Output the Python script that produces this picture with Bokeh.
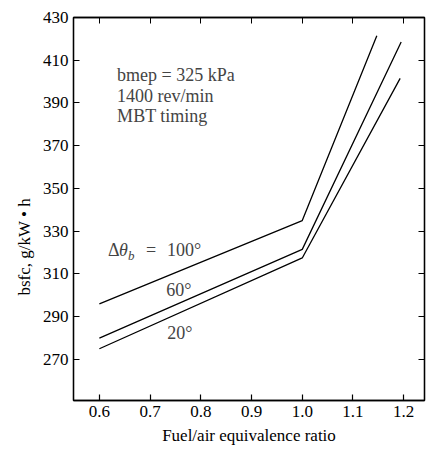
from bokeh.plotting import figure
from bokeh.models import LinearAxis, FixedTicker, Label, Range1d, Title
from bokeh.embed import file_html
from bokeh.resources import INLINE

# Data
phi_100 = [0.6, 1.0, 1.147]
bsfc_100 = [296, 335, 421.5]
phi_60 = [0.6, 1.0, 1.195]
bsfc_60 = [280, 321.5, 418.5]
phi_20 = [0.6, 1.0, 1.193]
bsfc_20 = [275, 317.5, 401.5]

x_ticks = [0.6, 0.7, 0.8, 0.9, 1.0, 1.1, 1.2]
x_tick_labels = ["0.6", "0.7", "0.8", "0.9", "1.0", "1.1", "1.2"]
y_ticks = [270, 290, 310, 330, 350, 370, 390, 410, 430]

FONT = "Liberation Serif"

p = figure(width=426, height=456, output_backend="svg", toolbar_location=None,
           x_range=Range1d(0.549, 1.241), y_range=Range1d(250.8, 430),
           min_border_left=73, min_border_right=2, min_border_top=17, min_border_bottom=56,
           x_axis_label="Fuel/air equivalence ratio")
p.grid.visible = False
p.outline_line_color = "black"
p.outline_line_width = 1.3
p.background_fill_color = "white"
p.border_fill_color = "white"

for ax in (p.xaxis[0], p.yaxis[0]):
    ax.major_tick_in = 6
    ax.major_tick_out = 0
    ax.minor_tick_line_color = None
    ax.axis_line_width = 1.3
    ax.major_tick_line_width = 1.2
    ax.major_label_text_font = FONT
    ax.major_label_text_font_size = "17px"
    ax.major_label_text_color = "black"
    ax.axis_label_text_font = FONT
    ax.axis_label_text_font_size = "17px"
    ax.axis_label_text_font_style = "normal"
    ax.axis_label_text_color = "black"
    ax.major_label_standoff = 5

p.xaxis[0].ticker = FixedTicker(ticks=x_ticks)
p.xaxis[0].major_label_overrides = {t: s for t, s in zip(x_ticks, x_tick_labels)}
p.xaxis[0].axis_label_standoff = 6
p.yaxis[0].ticker = FixedTicker(ticks=y_ticks)

top = LinearAxis(ticker=FixedTicker(ticks=x_ticks), major_tick_in=6, major_tick_out=0,
                 minor_tick_line_color=None, axis_line_width=1.3,
                 major_label_overrides={t: "" for t in x_ticks})
right = LinearAxis(ticker=FixedTicker(ticks=y_ticks), major_tick_in=6, major_tick_out=0,
                   minor_tick_line_color=None, axis_line_width=1.3,
                   major_label_overrides={t: "" for t in y_ticks})
p.add_layout(top, "above")
p.add_layout(right, "right")

# y-axis title as a side title, so it can sit below the frame's centre as in the original
p.add_layout(Title(text="bsfc, g/kW • h", align="left", offset=105, standoff=12,
                   text_font=FONT, text_font_size="17px", text_font_style="normal",
                   text_color="black"), "left")

for xs, ys in ((phi_100, bsfc_100), (phi_60, bsfc_60), (phi_20, bsfc_20)):
    p.line(xs, ys, line_color="black", line_width=1.3)

for txt, y in (("bmep = 325 kPa", 403.3), ("1400 rev/min", 393.5), ("MBT timing", 383.7)):
    p.add_layout(Label(x=0.635, y=y, text=txt, text_font=FONT, text_font_size="18px",
                       text_baseline="middle"))

FS = "18px"
p.add_layout(Label(x=0.617, y=321, text="Δ", text_font=FONT, text_font_size=FS,
                   text_baseline="middle"))
p.add_layout(Label(x=0.617, y=321, x_offset=11, text="θ", text_font=FONT, text_font_size=FS,
                   text_font_style="italic", text_baseline="middle"))
p.add_layout(Label(x=0.617, y=321, x_offset=20, y_offset=-5, text="b", text_font=FONT,
                   text_font_size="13px", text_font_style="italic", text_baseline="middle"))
p.add_layout(Label(x=0.617, y=321, x_offset=38, text="=", text_font=FONT,
                   text_font_size=FS, text_baseline="middle"))
p.add_layout(Label(x=0.617, y=321, x_offset=59, text="100°", text_font=FONT,
                   text_font_size=FS, text_baseline="middle"))
p.add_layout(Label(x=0.732, y=302.3, text="60°", text_font=FONT,
                   text_font_size=FS, text_baseline="middle"))
p.add_layout(Label(x=0.734, y=282.6, text="20°", text_font=FONT,
                   text_font_size=FS, text_baseline="middle"))

open("out.html", "w").write(file_html(p, INLINE))
